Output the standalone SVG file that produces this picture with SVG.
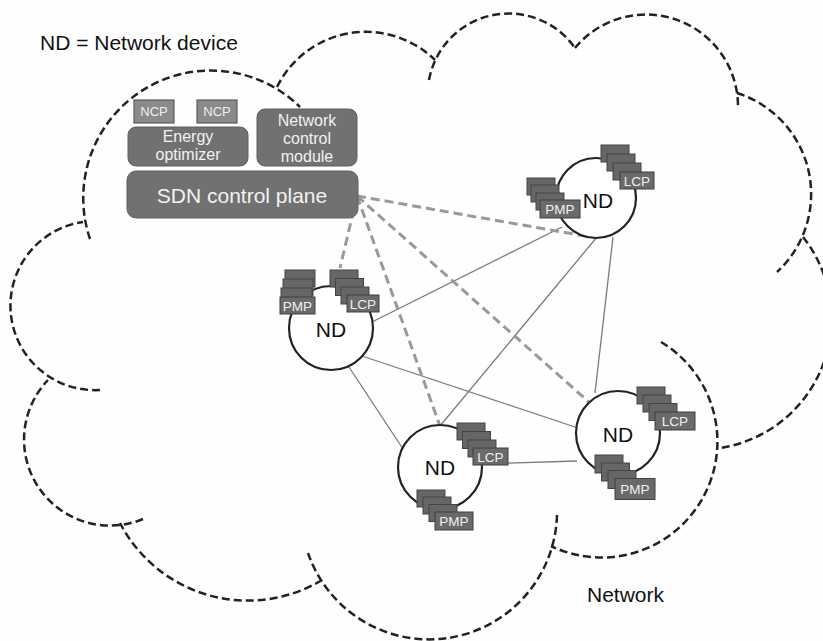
<svg xmlns="http://www.w3.org/2000/svg" width="823" height="641" viewBox="0 0 823 641">
  <style>
    .cloud { fill: none; stroke: #222; stroke-width: 2.5; stroke-dasharray: 8 4; }
    .link { stroke: #7a7a7a; stroke-width: 1.3; fill: none; }
    .ctrl { stroke: #999; stroke-width: 3; stroke-dasharray: 9 5; fill: none; }
    .nd { fill: #fff; stroke: #222; stroke-width: 2.2; }
    .chip { fill: #6a6a6a; stroke: #3f3f3f; stroke-width: 1; }
    .chipback { fill: #666; stroke: #444; stroke-width: 1; }
    .ncp { fill: #8a8a8a; stroke: #5a5a5a; stroke-width: 1.2; }
    .box { fill: #717171; stroke: #5f5f5f; stroke-width: 1; }
    .chiptxt { font-family: "Liberation Sans", Arial, sans-serif; font-size: 13.5px; fill: #f0f0f0; text-anchor: middle; }
    .ncptxt { font-family: "Liberation Sans", Arial, sans-serif; font-size: 13px; fill: #f0f0f0; text-anchor: middle; }
    .boxtxt { font-family: "Liberation Sans", Arial, sans-serif; font-size: 16px; fill: #f2f2f2; text-anchor: middle; }
    .bigtxt { font-family: "Liberation Sans", Arial, sans-serif; font-size: 21px; fill: #f2f2f2; text-anchor: middle; }
    .ndtxt { font-family: "Liberation Sans", Arial, sans-serif; font-size: 21px; fill: #111; text-anchor: middle; }
    .label { font-family: "Liberation Sans", Arial, sans-serif; font-size: 21px; fill: #111; }
  </style>

  <rect width="823" height="641" fill="#fefefe"/>

  <!-- Network cloud outline: overlapping dashed arcs -->
  <g id="cloud">
    <path class="cloud" d="M 90 239 A 127.5 127.5 0 0 1 300 107"/>
    <path class="cloud" d="M 277 87 A 99 99 0 0 1 435 60"/>
    <path class="cloud" d="M 429 80 A 81 81 0 0 1 575 48"/>
    <path class="cloud" d="M 575 48 A 92 92 0 0 1 738 108"/>
    <path class="cloud" d="M 737 93 A 106 106 0 0 1 777 272"/>
    <path class="cloud" d="M 803 237 A 131 131 0 0 1 720 448"/>
    <path class="cloud" d="M 661 342 A 116 116 0 0 1 551 546"/>
    <path class="cloud" d="M 557 515 A 128 128 0 0 1 308 553"/>
    <path class="cloud" d="M 322 580 A 144 144 0 0 1 120 523"/>
    <path class="cloud" d="M 143 519 A 86 86 0 0 1 48 380"/>
    <path class="cloud" d="M 100 390 A 84.5 84.5 0 0 1 83 222"/>
  </g>

  <!-- Links between devices and control links from the controller -->
  <g id="connectors">
    <line class="link" x1="372" y1="322" x2="562" y2="227"/>
    <line class="link" x1="362" y1="356" x2="578" y2="428"/>
    <line class="link" x1="349" y1="367" x2="403" y2="449"/>
    <line class="link" x1="440" y1="426" x2="597" y2="237"/>
    <line class="link" x1="481" y1="464" x2="577" y2="461"/>
    <line class="link" x1="613" y1="237" x2="595" y2="393"/>
    <line class="ctrl" x1="357" y1="196" x2="585" y2="236"/>
    <line class="ctrl" x1="357" y1="196" x2="340" y2="268"/>
    <line class="ctrl" x1="357" y1="196" x2="440" y2="426"/>
    <line class="ctrl" x1="357" y1="196" x2="590" y2="403"/>
  </g>

  <!-- Controller stack -->
  <g id="ncp1">
    <rect class="ncp" x="134" y="100" width="40" height="23"/>
    <text class="ncptxt" x="154" y="116">NCP</text>
  </g>
  <g id="ncp2">
    <rect class="ncp" x="197" y="100" width="40" height="23"/>
    <text class="ncptxt" x="217" y="116">NCP</text>
  </g>
  <g id="energy-optimizer">
    <rect class="box" x="128" y="127" width="120" height="39" rx="8"/>
    <text class="boxtxt" x="188" y="142">Energy</text>
    <text class="boxtxt" x="188" y="160">optimizer</text>
  </g>
  <g id="network-control-module">
    <rect class="box" x="257" y="109" width="100" height="57" rx="8"/>
    <text class="boxtxt" x="307" y="126">Network</text>
    <text class="boxtxt" x="307" y="144">control</text>
    <text class="boxtxt" x="307" y="162">module</text>
  </g>
  <g id="sdn-control-plane">
    <rect class="box" x="127" y="171" width="231" height="47" rx="9"/>
    <text class="bigtxt" x="242" y="203">SDN control plane</text>
  </g>

  <!-- Network device, top right -->
  <g id="nd-top-right">
    <circle class="nd" cx="596" cy="198" r="40"/>
    <text class="ndtxt" x="598" y="208">ND</text>
    <rect class="chipback" x="601" y="145" width="28" height="17"/>
    <rect class="chipback" x="607" y="154" width="28" height="17"/>
    <rect class="chipback" x="613" y="163" width="28" height="17"/>
    <rect class="chip" x="620" y="172" width="34" height="17"/>
    <text class="chiptxt" x="637" y="185.5">LCP</text>
    <rect class="chipback" x="527" y="178" width="28" height="17"/>
    <rect class="chipback" x="531" y="185" width="28" height="17"/>
    <rect class="chipback" x="536" y="193" width="28" height="17"/>
    <rect class="chip" x="540" y="200" width="40" height="18"/>
    <text class="chiptxt" x="560" y="214">PMP</text>
  </g>

  <!-- Network device, left -->
  <g id="nd-left">
    <circle class="nd" cx="331" cy="328" r="42"/>
    <text class="ndtxt" x="331" y="337">ND</text>
    <rect class="chipback" x="285" y="270" width="30" height="17"/>
    <rect class="chipback" x="283" y="279" width="30" height="17"/>
    <rect class="chipback" x="281" y="288" width="31" height="17"/>
    <rect class="chip" x="280" y="297" width="35" height="17"/>
    <text class="chiptxt" x="297.5" y="310.5">PMP</text>
    <rect class="chipback" x="330" y="270" width="28" height="17"/>
    <rect class="chipback" x="335.5" y="278.5" width="28" height="17"/>
    <rect class="chipback" x="341" y="287" width="28" height="17"/>
    <rect class="chip" x="347" y="295" width="32" height="17"/>
    <text class="chiptxt" x="363" y="308.5">LCP</text>
  </g>

  <!-- Network device, bottom -->
  <g id="nd-bottom">
    <circle class="nd" cx="440" cy="467" r="42"/>
    <text class="ndtxt" x="440" y="475">ND</text>
    <rect class="chipback" x="457" y="423" width="28" height="17"/>
    <rect class="chipback" x="462.5" y="431.5" width="28" height="17"/>
    <rect class="chipback" x="468" y="440" width="28" height="17"/>
    <rect class="chip" x="473" y="448" width="35" height="17"/>
    <text class="chiptxt" x="490.5" y="461.5">LCP</text>
    <rect class="chipback" x="417" y="490" width="28" height="17"/>
    <rect class="chipback" x="423" y="497" width="28" height="17"/>
    <rect class="chipback" x="429" y="504.5" width="28" height="17"/>
    <rect class="chip" x="435" y="512" width="38" height="18"/>
    <text class="chiptxt" x="454" y="526">PMP</text>
  </g>

  <!-- Network device, right -->
  <g id="nd-right">
    <circle class="nd" cx="618" cy="433" r="42"/>
    <text class="ndtxt" x="618" y="442">ND</text>
    <rect class="chipback" x="637" y="387" width="28" height="17"/>
    <rect class="chipback" x="643" y="395" width="28" height="17"/>
    <rect class="chipback" x="649" y="403.5" width="28" height="17"/>
    <rect class="chip" x="655" y="412" width="40" height="18"/>
    <text class="chiptxt" x="675" y="426">LCP</text>
    <rect class="chipback" x="595" y="455" width="28" height="18"/>
    <rect class="chipback" x="601.5" y="463" width="28" height="18"/>
    <rect class="chipback" x="608" y="470.5" width="28" height="18"/>
    <rect class="chip" x="615" y="478.5" width="40" height="21"/>
    <text class="chiptxt" x="635" y="494">PMP</text>
  </g>

  <!-- Legend and area label -->
  <text class="label" x="40" y="50">ND = Network device</text>
  <text class="label" x="587" y="602">Network</text>
</svg>
